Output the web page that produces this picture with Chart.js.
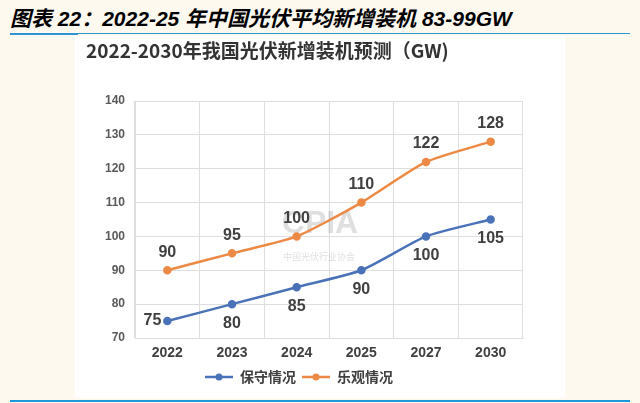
<!DOCTYPE html>
<html>
<head>
<meta charset="utf-8">
<script src="https://cdn.jsdelivr.net/npm/chart.js@4.4.1/dist/chart.umd.min.js"></script>
<style>
    body { margin: 0; background: #fdf9ef; width: 640px; height: 403px; overflow: hidden; position: relative; }
    #header {
        position: absolute; left: 10px; top: 2px;
        font-family: "Liberation Sans", "Noto Sans CJK SC", sans-serif;
        font-weight: bold; font-style: italic; font-size: 21px; color: #000;
        white-space: nowrap;
    }
    #topLine { position: absolute; left: 10px; top: 33px; width: 620px; height: 1px; background: #2b95d3; }
    #topLineThick { position: absolute; left: 10px; top: 33px; width: 68px; height: 2px; background: #2b95d3; }
    #bottomLine { position: absolute; left: 10px; top: 400px; width: 620px; height: 2px; background: #1f97d8; }
    #box { position: absolute; left: 75px; top: 36px; width: 490px; height: 362px; background: #fff; }
    #chartTitle {
        position: absolute; left: 86px; top: 38px; line-height: 24px;
        font-family: "Noto Sans CJK SC", sans-serif; font-weight: bold; font-size: 19px; color: #333;
        white-space: nowrap; z-index: 2;
    }
</style>
</head>
<body>
<div id="header">图表 22：2022-25 年中国光伏平均新增装机 83-99GW</div>
<div id="topLine"></div>
<div id="topLineThick"></div>
<div id="box"><canvas id="chart"></canvas></div>
<div id="chartTitle">2022-2030年我国光伏新增装机预测（GW)</div>
<div id="bottomLine"></div>
<script>
const years = ['2022', '2023', '2024', '2025', '2027', '2030'];
const conservative = [75, 80, 85, 90, 100, 105];
const optimistic = [90, 95, 100, 110, 122, 128];
const yTicks = [70, 80, 90, 100, 110, 120, 130, 140];

const blue = '#4a72b8';
const orange = '#ec8a45';

// small "line with dot" icon for the legend
function legendIcon(color) {
    const c = document.createElement('canvas');
    c.width = 28;
    c.height = 10;
    const g = c.getContext('2d');
    g.strokeStyle = color;
    g.lineWidth = 2.5;
    g.beginPath();
    g.moveTo(0, 5);
    g.lineTo(28, 5);
    g.stroke();
    g.fillStyle = color;
    g.beginPath();
    g.arc(14, 5, 3.5, 0, Math.PI * 2);
    g.fill();
    return c;
}

const valueLabels = {
    id: 'valueLabels',
    afterDatasetsDraw(chart) {
        const ctx = chart.ctx;
        ctx.save();
        ctx.font = 'bold 16px "Liberation Sans", Arial, sans-serif';
        ctx.fillStyle = '#404040';
        ctx.textBaseline = 'middle';
        chart.data.datasets.forEach((ds, i) => {
            const meta = chart.getDatasetMeta(i);
            meta.data.forEach((pt, j) => {
                let x = pt.x, y = pt.y;
                ctx.textAlign = 'center';
                if (i === 1) {
                    y -= 18;
                } else if (j === 0) {
                    ctx.textAlign = 'right';
                    x -= 6;
                } else {
                    y += 19;
                }
                ctx.fillText(ds.data[j], x, y);
            });
        });
        ctx.restore();
    }
};

const watermark = {
    id: 'watermark',
    beforeDatasetsDraw(chart) {
        const ctx = chart.ctx;
        ctx.save();
        ctx.fillStyle = 'rgba(150,150,150,0.3)';
        ctx.textAlign = 'center';
        ctx.textBaseline = 'middle';
        ctx.font = 'bold 32px "Liberation Sans", sans-serif';
        ctx.fillText('CPIA', 245, 188);
        ctx.font = '9px "Noto Sans CJK SC", sans-serif';
        ctx.fillText('中国光伏行业协会', 244, 221);
        ctx.restore();
    }
};

const ctx = document.getElementById('chart').getContext('2d');
const chart = new Chart(ctx, {
    type: 'line',
    data: {
        labels: years,
        datasets: [{
            label: '保守情况',
            data: conservative,
            borderColor: blue,
            backgroundColor: blue,
            borderWidth: 2.5,
            pointRadius: 3,
            pointBackgroundColor: blue,
            tension: 0.2
        }, {
            label: '乐观情况',
            data: optimistic,
            borderColor: orange,
            backgroundColor: orange,
            borderWidth: 2.5,
            pointRadius: 3,
            pointBackgroundColor: orange,
            tension: 0.2
        }]
    },
    options: {
        responsive: true,
        maintainAspectRatio: false,
        animation: false,
        layout: { padding: { left: 0, right: 42, top: 65, bottom: 4 } },
        scales: {
            x: {
                offset: true,
                grid: { offset: true, color: '#dedede', drawTicks: false },
                border: { color: '#dedede' },
                ticks: {
                    padding: 7,
                    color: '#404040',
                    font: { family: '"Liberation Sans", Arial, sans-serif', size: 14, weight: 'bold' }
                },
                afterFit: (scale) => { scale.height = 26; }
            },
            y: {
                min: 70,
                max: 140,
                afterBuildTicks: (scale) => { scale.ticks = yTicks.map(v => ({ value: v })); },
                grid: { color: '#dedede', drawTicks: false },
                border: { color: '#dedede' },
                ticks: {
                    padding: 10,
                    color: '#595959',
                    font: { family: '"Liberation Sans", Arial, sans-serif', size: 12, weight: 'bold' }
                },
                afterFit: (scale) => { scale.width = 60; }
            }
        },
        plugins: {
            title: { display: false },
            legend: {
                position: 'bottom',
                labels: {
                    usePointStyle: true,
                    pointStyleWidth: 28,
                    padding: 6,
                    color: '#404040',
                    font: { family: '"Noto Sans CJK SC", sans-serif', size: 14, weight: 'bold' },
                    generateLabels: (chart) => chart.data.datasets.map((ds, i) => ({
                        text: ds.label,
                        pointStyle: legendIcon(ds.borderColor),
                        fillStyle: ds.borderColor,
                        strokeStyle: ds.borderColor,
                        fontColor: '#404040',
                        lineWidth: 0,
                        datasetIndex: i
                    }))
                }
            },
            tooltip: { enabled: false }
        }
    },
    plugins: [valueLabels, watermark]
});
</script>
</body>
</html>
